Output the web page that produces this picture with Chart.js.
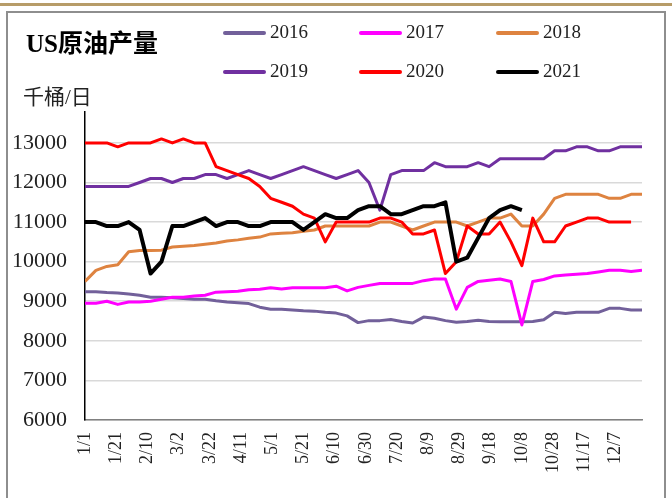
<!DOCTYPE html>
<html>
<head>
<meta charset="utf-8">
<script src="https://cdn.jsdelivr.net/npm/chart.js@4"></script>
<style>
    html, body { margin: 0; padding: 0; background: #fff; }
    body { width: 672px; height: 498px; position: relative; overflow: hidden; }
    .topRule { position: absolute; left: 0; top: 3px; width: 672px; height: 3px; background: #b79c68; }
    .frame { position: absolute; left: 6px; top: 11px; width: 660px; height: 500px; border: 2px solid #8e8e8e; box-sizing: border-box; }
    #chartBox { position: absolute; left: 0; top: 0; width: 672px; height: 498px; }
    .title { position: absolute; left: 26px; top: 23px; font: bold 25px "Liberation Serif", "Noto Sans CJK SC"; color: #000; white-space: nowrap; }
    .unit { position: absolute; left: 23px; top: 80px; font: 21px "Liberation Serif", "Noto Sans CJK SC"; color: #222; white-space: nowrap; }
    .legendItem { position: absolute; height: 20px; font: 19px "Liberation Serif"; color: #222; white-space: nowrap; }
    .legendItem span.swatch { position: absolute; left: 0; top: 8px; width: 43px; height: 4px; border-radius: 2px; }
    .legendItem span.txt { position: absolute; left: 47px; top: -2px; }
</style>
</head>
<body>
<div class="topRule"></div>
<div class="frame"></div>
<div id="chartBox"><canvas id="oilChart" width="672" height="498"></canvas></div>
<div class="title">US原油产量</div>
<div class="unit">千桶/日</div>
<div id="legend"></div>
<script>
// ============ 数据（千桶/日，周度） ============
const xTickLabels = ['1/1', '1/21', '2/10', '3/2', '3/22', '4/11', '5/1', '5/21', '6/10',
    '6/30', '7/20', '8/9', '8/29', '9/18', '10/8', '10/28', '11/17', '12/7'];
const xTickDays = [0, 20, 40, 60, 80, 100, 120, 140, 160, 180, 200, 220, 240, 260, 280, 300, 320, 340];
const yTickValues = [6000, 7000, 8000, 9000, 10000, 11000, 12000, 13000];

const years = ['2016', '2017', '2018', '2019', '2020', '2021'];

const prod2016 = [9240, 9240, 9220, 9210, 9180, 9150, 9100, 9100, 9090, 9070, 9050, 9050, 9010,
    8980, 8960, 8940, 8850, 8800, 8800, 8780, 8760, 8750, 8720, 8700, 8630, 8460,
    8510, 8510, 8540, 8490, 8450, 8600, 8570, 8510, 8470, 8490, 8520, 8490, 8480,
    8480, 8480, 8490, 8530, 8720, 8690, 8720, 8720, 8720, 8820, 8820, 8780, 8780];

const prod2017 = [8950, 8950, 9000, 8920, 8980, 8980, 9000, 9050, 9100, 9100, 9130, 9150, 9230,
    9240, 9250, 9290, 9300, 9340, 9310, 9340, 9340, 9340, 9340, 9380, 9260, 9350,
    9400, 9450, 9450, 9450, 9450, 9520, 9560, 9560, 8800, 9350, 9500, 9530, 9560,
    9500, 8400, 9500, 9550, 9640, 9660, 9680, 9700, 9740, 9780, 9780, 9750, 9780];

const prod2018 = [9500, 9780, 9880, 9920, 10250, 10280, 10280, 10290, 10370, 10390, 10410, 10440, 10470,
    10520, 10550, 10590, 10620, 10700, 10720, 10730, 10770, 10800, 10900, 10900, 10900, 10900,
    10900, 11000, 11000, 10900, 10800, 10900, 11000, 11000, 11000, 10900, 11000, 11100, 11100,
    11200, 10900, 10900, 11200, 11600, 11700, 11700, 11700, 11700, 11600, 11600, 11700, 11700];

const prod2019 = [11900, 11900, 11900, 11900, 11900, 12000, 12100, 12100, 12000, 12100, 12100, 12200, 12200,
    12100, 12200, 12300, 12200, 12100, 12200, 12300, 12400, 12300, 12200, 12100, 12200, 12300,
    12000, 11300, 12200, 12300, 12300, 12300, 12500, 12400, 12400, 12400, 12500, 12400, 12600,
    12600, 12600, 12600, 12600, 12800, 12800, 12900, 12900, 12800, 12800, 12900, 12900, 12900];

const prod2020 = [13000, 13000, 13000, 12900, 13000, 13000, 13000, 13100, 13000, 13100, 13000, 13000, 12400,
    12300, 12200, 12100, 11900, 11600, 11500, 11400, 11200, 11100, 10500, 11000, 11000, 11000,
    11000, 11100, 11100, 11000, 10700, 10700, 10800, 9700, 10000, 10900, 10700, 10700, 11000,
    10500, 9900, 11100, 10500, 10500, 10900, 11000, 11100, 11100, 11000, 11000, 11000];

const prod2021 = [11000, 11000, 10900, 10900, 11000, 10800, 9700, 10000, 10900, 10900, 11000, 11100, 10900,
    11000, 11000, 10900, 10900, 11000, 11000, 11000, 10800, 11000, 11200, 11100, 11100, 11300,
    11400, 11400, 11200, 11200, 11300, 11400, 11400, 11500, 10000, 10100, 10600, 11100, 11300,
    11400, 11300];

const seriesValues = [prod2016, prod2017, prod2018, prod2019, prod2020, prod2021];

// 年份颜色
const YEAR_COLORS = ['#72609a', '#ff00ff', '#de8340', '#7030a0', '#ff0000', '#000000'];
const YEAR_WIDTHS = [3, 3, 3, 3, 3, 4];

// 周度数据按年内天数放到线性轴上（每周 7 天）
const toPoints = vals => vals.map((v, i) => ({ x: i * 7, y: v }));

const datasets = years.map((yr, k) => ({
    label: yr,
    data: toPoints(seriesValues[k]),
    borderColor: YEAR_COLORS[k],
    backgroundColor: YEAR_COLORS[k],
    borderWidth: YEAR_WIDTHS[k],
    pointRadius: 0,
    pointHoverRadius: 0,
    tension: 0,
    fill: false,
    borderJoinStyle: 'round',
    order: years.length - k   // 后面的年份画在上层
}));

const tickFont = { family: '"Liberation Serif", serif' };

const chart = new Chart(document.getElementById('oilChart'), {
    type: 'line',
    data: { datasets },
    options: {
        responsive: false,
        animation: false,
        devicePixelRatio: 1,
        layout: { padding: { top: 112, right: 30, left: 0, bottom: 0 } },
        plugins: { legend: { display: false }, tooltip: { enabled: false } },
        scales: {
            x: {
                type: 'linear',
                min: 0,
                max: 357,
                afterFit: s => { s.height = 78; },
                afterBuildTicks: s => { s.ticks = xTickDays.map(v => ({ value: v })); },
                ticks: {
                    autoSkip: false,
                    minRotation: 90,
                    maxRotation: 90,
                    padding: 12,
                    color: '#222',
                    font: { ...tickFont, size: 18 },
                    callback: (v, i) => xTickLabels[i] || ''
                },
                grid: { display: false, drawTicks: false },
                border: { display: true, color: '#808080', width: 1.5 }
            },
            y: {
                min: 6000,
                max: 13780,
                afterFit: s => { s.width = 85; },
                afterBuildTicks: s => { s.ticks = yTickValues.map(v => ({ value: v })); },
                ticks: {
                    autoSkip: false,
                    padding: 18,
                    color: '#222',
                    font: { ...tickFont, size: 22 },
                    callback: v => String(v)
                },
                grid: { color: '#d9d9d9', lineWidth: 1.5, drawTicks: false },
                border: { color: '#000', width: 1.5 }
            }
        }
    }
});

// ============ 图例（3 列 x 2 行） ============
const legendCols = [223, 359, 496];
const legendRows = [23, 62];
const legendBox = document.getElementById('legend');
chart.data.datasets.forEach((ds, k) => {
    const item = document.createElement('div');
    item.className = 'legendItem';
    item.style.left = legendCols[k % 3] + 'px';
    item.style.top = legendRows[Math.floor(k / 3)] + 'px';
    item.innerHTML = '<span class="swatch" style="background:' + ds.borderColor + '"></span>' +
        '<span class="txt">' + ds.label + '</span>';
    legendBox.appendChild(item);
});
</script>
</body>
</html>
